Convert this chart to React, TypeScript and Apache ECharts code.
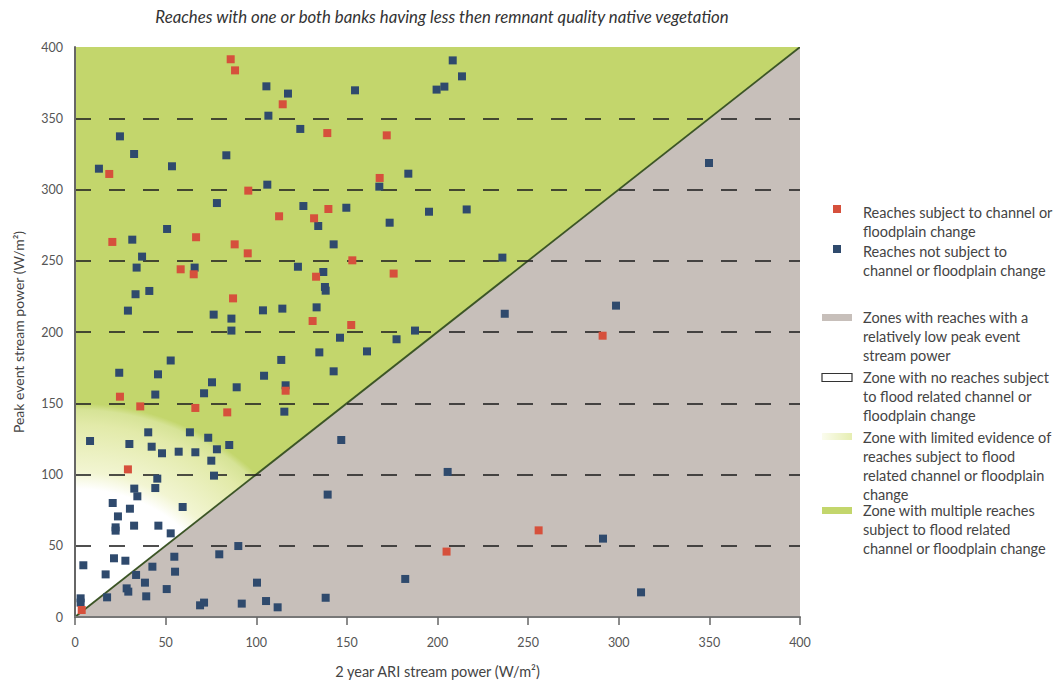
import React, { useEffect, useRef } from "react";
import * as echarts from "echarts";

const TITLE = "Reaches with one or both banks having less then remnant quality native vegetation";
const X_NAME = "2 year ARI stream power (W/m²)";
const Y_NAME = "Peak event stream power (W/m²)";
const AXIS_MIN = 0;
const AXIS_MAX = 400;
const AXIS_STEP = 50;

// Reaches subject to channel or floodplain change [2yr ARI, peak event]
const changedReaches: [number, number][] = [
  [85.9, 391.4], [88.3, 383.6], [114.6, 359.8], [18.9, 310.9], [95.6, 299.2],
  [112.6, 281.2], [131.9, 279.8], [20.6, 263.2], [66.8, 266.5], [88.1, 261.5],
  [95.3, 255.2], [58.3, 244.0], [65.5, 240.5], [133.0, 238.8], [87.2, 223.6],
  [131.1, 207.7], [24.8, 154.6], [116.2, 158.8], [36.0, 147.8], [66.4, 146.7],
  [84.0, 143.6], [29.2, 103.6], [3.7, 4.9], [139.2, 339.6], [172.0, 338.0],
  [168.1, 308.1], [139.8, 286.3], [153.0, 250.3], [175.8, 241.0], [152.4, 204.9],
  [291.1, 197.4], [255.8, 60.8], [205.0, 45.9],
];

// Reaches not subject to channel or floodplain change
const unchangedReaches: [number, number][] = [
  [105.6, 372.4], [117.5, 367.3], [106.7, 351.8], [124.3, 342.5], [24.8, 337.3],
  [32.6, 324.9], [83.5, 324.0], [13.2, 314.6], [53.5, 316.3], [106.1, 303.4],
  [78.3, 290.5], [126.0, 288.4], [134.2, 274.4], [50.8, 272.3], [31.6, 264.8],
  [37.0, 252.9], [34.0, 245.2], [66.0, 245.2], [123.0, 245.8], [33.4, 226.5],
  [41.0, 228.8], [29.2, 215.0], [76.5, 212.2], [86.3, 209.4], [86.3, 201.0],
  [103.7, 215.2], [114.4, 216.4], [133.3, 217.3], [134.8, 185.7], [52.8, 180.0],
  [24.4, 171.4], [45.8, 170.3], [113.8, 180.4], [104.3, 169.3], [75.6, 164.7],
  [89.2, 161.2], [71.2, 157.0], [44.3, 156.1], [116.2, 162.6], [115.5, 144.1],
  [8.3, 123.5], [40.4, 129.6], [63.4, 129.6], [73.5, 125.8], [85.1, 120.7],
  [30.0, 121.4], [42.3, 119.5], [48.0, 114.9], [57.2, 116.0], [66.4, 115.6],
  [78.3, 117.7], [75.2, 109.7], [45.4, 97.1], [76.7, 99.2], [32.7, 90.1],
  [44.3, 90.5], [34.4, 84.7], [20.8, 80.0], [30.3, 76.0], [59.4, 77.2],
  [23.7, 70.6], [22.4, 62.9], [22.4, 60.6], [32.6, 64.1], [46.0, 64.1],
  [52.8, 58.7], [90.1, 49.8], [79.6, 44.0], [21.5, 41.2], [27.8, 39.5],
  [54.8, 42.3], [4.6, 36.3], [42.7, 35.3], [55.2, 31.8], [16.9, 29.9],
  [33.7, 29.5], [38.6, 24.1], [100.4, 24.1], [28.5, 20.1], [29.4, 17.8],
  [17.7, 13.8], [39.3, 14.5], [50.6, 19.6], [3.1, 13.1], [3.1, 10.1],
  [69.0, 8.2], [71.2, 10.1], [92.0, 9.4], [105.4, 11.2], [111.8, 6.8],
  [208.4, 390.6], [213.5, 379.4], [199.5, 370.1], [203.8, 372.2], [154.5, 369.6],
  [167.9, 302.0], [183.9, 311.1], [149.7, 287.2], [195.3, 284.4], [216.1, 286.0],
  [173.6, 276.7], [142.7, 261.5], [235.8, 252.2], [137.0, 242.1], [137.9, 231.6],
  [138.3, 229.0], [237.1, 212.8], [187.6, 201.0], [146.2, 196.0], [177.4, 194.9],
  [161.1, 186.4], [142.7, 172.4], [146.9, 124.2], [205.6, 101.8], [139.4, 85.9],
  [291.3, 55.0], [182.2, 26.7], [138.3, 13.5], [312.3, 17.3], [349.8, 318.6],
  [298.5, 218.5],
];

// Zone geometry in data units
const lowPowerZone: [number, number][] = [[0, 0], [400, 0], [400, 400]];
const multipleZone: [number, number][] = [[0, 0], [0, 400], [400, 400]];
const limitedZone: [number, number][] = [[0, 0], [0, 150], [135, 150], [135, 135]];
const thresholdLine: [number, number][] = [[0, 0], [400, 400]];

const legendTexts: string[][] = [
  ["Reaches subject to channel or", "floodplain change"],
  ["Reaches not subject to", "channel or floodplain change"],
  ["Zones with reaches with a", "relatively low peak event", "stream power"],
  ["Zone with no reaches subject", "to flood related channel or", "floodplain change"],
  ["Zone with limited evidence of", "reaches subject to flood", "related channel or floodplain", "change"],
  ["Zone with multiple reaches", "subject to flood related", "channel or floodplain change"],
];

const FONT = 'Lato, "Open Sans", "DejaVu Sans", sans-serif';
const RED = "#d6503c";
const BLUE = "#2f4a6d";
const GREEN = "#c3d66c";
const GREY = "#c7bfba";

export default function App() {
  const ref = useRef<HTMLDivElement>(null);

  useEffect(() => {
    if (!ref.current) return;
    const chart = echarts.init(ref.current, undefined, { renderer: "svg" });

    const legendTops = [212, 251, 317, 377, 437, 510];
    const lineH = 19.3;
    const textX = 863;
    const graphics: any[] = [];
    legendTexts.forEach((lines, i) => {
      lines.forEach((t, j) => {
        graphics.push({
          type: "text",
          x: textX,
          y: legendTops[i] + j * lineH,
          silent: true,
          style: {
            text: t,
            fill: "#444",
            fontSize: 14.5,
            fontFamily: FONT,
            textVerticalAlign: "middle",
            textAlign: "left",
          },
        });
      });
    });
    // markers
    graphics.push({ type: "rect", shape: { x: 833, y: 205, width: 8, height: 8 }, style: { fill: RED }, silent: true });
    graphics.push({ type: "rect", shape: { x: 833, y: 245, width: 8, height: 8 }, style: { fill: BLUE }, silent: true });
    graphics.push({ type: "rect", shape: { x: 822, y: 314, width: 30, height: 7 }, style: { fill: GREY }, silent: true });
    graphics.push({ type: "rect", shape: { x: 822, y: 373.5, width: 30, height: 8 }, style: { fill: "#fff", stroke: "#333", lineWidth: 1.2 }, silent: true });
    graphics.push({
      type: "rect",
      shape: { x: 822, y: 433, width: 30, height: 7 },
      style: {
        fill: new echarts.graphic.LinearGradient(0, 0, 1, 0, [
          { offset: 0, color: "#fbfcee" },
          { offset: 1, color: "#e6eeb2" },
        ]),
      },
      silent: true,
    });
    graphics.push({ type: "rect", shape: { x: 822, y: 507, width: 30, height: 7 }, style: { fill: GREEN }, silent: true });

    chart.setOption({
      animation: false,
      title: {
        text: TITLE,
        left: 437,
        top: 3,
        textAlign: "center",
        textStyle: { fontStyle: "italic", fontWeight: "normal", fontSize: 16.8, color: "#333", fontFamily: FONT },
      },
      grid: { left: 75, right: 256, top: 47, bottom: 69 },
      xAxis: {
        type: "value",
        min: AXIS_MIN,
        max: AXIS_MAX,
        interval: AXIS_STEP,
        z: 3,
        name: X_NAME,
        nameLocation: "middle",
        nameGap: 47,
        nameTextStyle: { fontSize: 14.5, color: "#444", fontFamily: FONT },
        axisLine: { show: true, onZero: false, lineStyle: { color: "#777", width: 2 } },
        axisTick: { show: true, inside: false, length: 8, lineStyle: { color: "#666", width: 1.5 } },
        axisLabel: { color: "#555", fontSize: 12.5, margin: 19, fontFamily: FONT },
        splitLine: { show: false },
      },
      yAxis: {
        type: "value",
        min: AXIS_MIN,
        max: AXIS_MAX,
        interval: AXIS_STEP,
        z: 3,
        name: Y_NAME,
        nameLocation: "middle",
        nameGap: 50,
        nameTextStyle: { fontSize: 14, color: "#444", fontFamily: FONT },
        axisLine: { show: true, onZero: false, lineStyle: { color: "#666", width: 2 } },
        axisTick: { show: false },
        axisLabel: { color: "#555", fontSize: 12.5, margin: 12, fontFamily: FONT },
        splitLine: {
          show: true,
          showMinLine: false,
          showMaxLine: false,
          lineStyle: { color: "rgba(35,35,35,0.8)", width: 2, type: [16, 18] },
        },
      },
      graphic: graphics,
      series: [
        {
          type: "custom",
          z: 1,
          silent: true,
          clip: true,
          data: [[0, 0]],
          renderItem: (_params: any, api: any) => {
            const pts = (arr: [number, number][]) => arr.map((d) => api.coord(d));
            const line = pts(thresholdLine);
            return {
              type: "group",
              children: [
                { type: "polygon", shape: { points: pts(lowPowerZone) }, style: { fill: GREY } },
                { type: "polygon", shape: { points: pts(multipleZone) }, style: { fill: GREEN } },
                {
                  type: "polygon",
                  shape: { points: pts(limitedZone) },
                  style: {
                    fill: {
                      type: "radial",
                      x: 0,
                      y: 1,
                      r: 1,
                      colorStops: [
                        { offset: 0, color: "#ffffff" },
                        { offset: 0.6, color: "#ffffff" },
                        { offset: 0.68, color: "#f2f5d2" },
                        { offset: 0.9, color: "#e2eaa9" },
                        { offset: 0.97, color: "#d6e396" },
                        { offset: 1, color: GREEN },
                      ],
                    },
                  },
                },
                {
                  type: "line",
                  shape: { x1: line[0][0], y1: line[0][1], x2: line[1][0], y2: line[1][1] },
                  style: { stroke: "#3c5526", lineWidth: 1.8 },
                },
              ],
            };
          },
        },
        {
          type: "scatter",
          name: "Reaches not subject to channel or floodplain change",
          z: 5,
          symbol: "rect",
          symbolSize: 8,
          itemStyle: { color: BLUE, opacity: 1 },
          data: unchangedReaches,
        },
        {
          type: "scatter",
          name: "Reaches subject to channel or floodplain change",
          z: 6,
          symbol: "rect",
          symbolSize: 8,
          itemStyle: { color: RED, opacity: 1 },
          data: changedReaches,
        },
      ],
    });

    return () => chart.dispose();
  }, []);

  return (
    <div
      ref={ref}
      style={{ position: "absolute", left: 0, top: 0, width: 1056, height: 686, background: "#fff" }}
    />
  );
}
